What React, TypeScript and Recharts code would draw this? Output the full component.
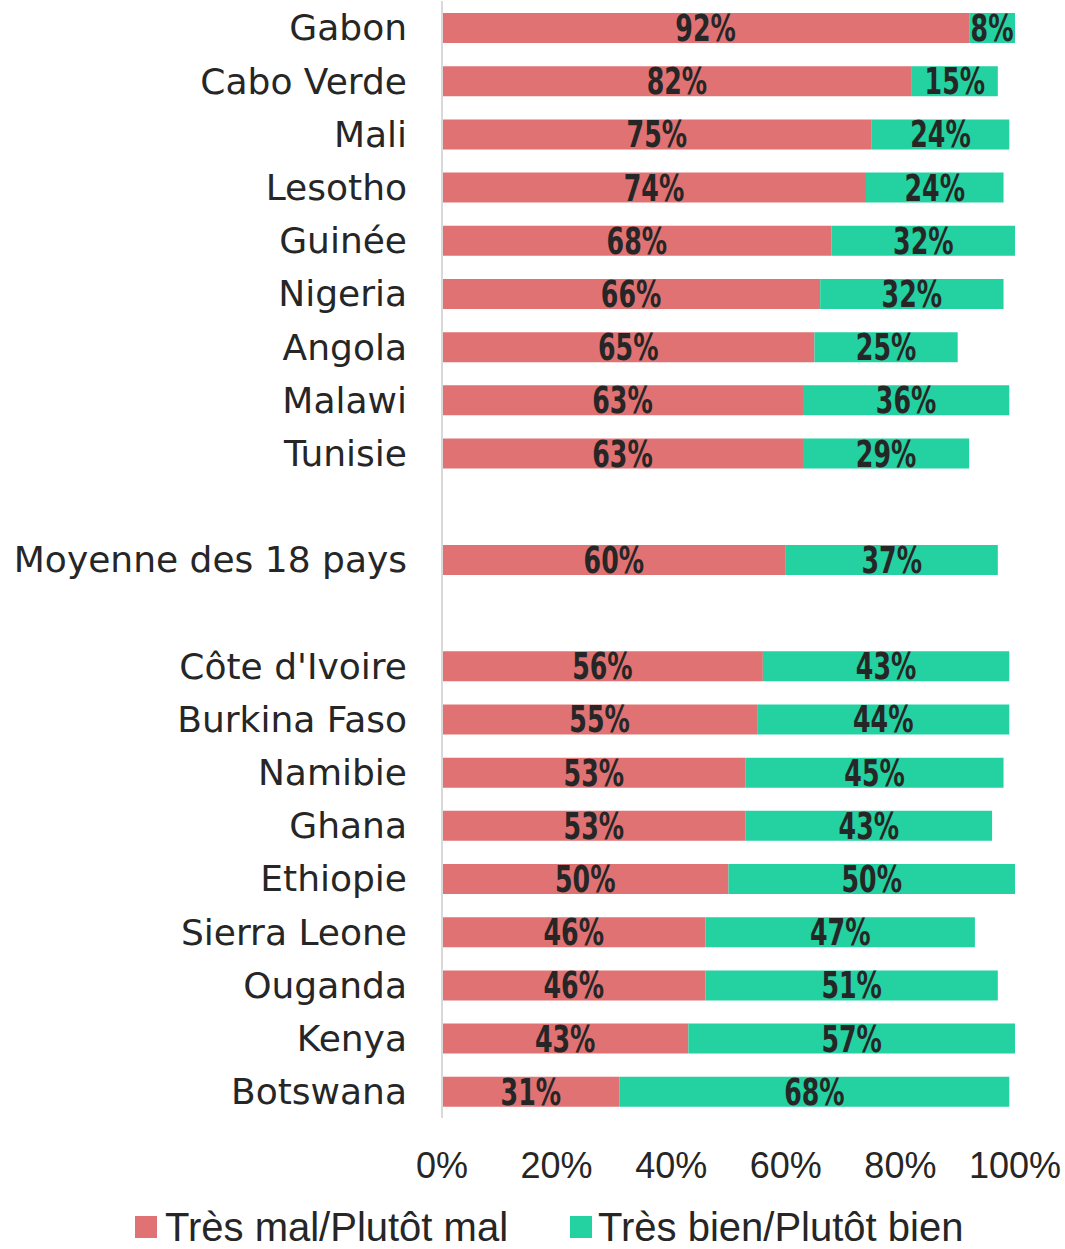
import React from "react"
import { BarChart, Bar, XAxis, YAxis, Legend, LabelList } from "recharts"

// rows top to bottom; blank strings are spacer rows
const countries = [
  "Gabon", "Cabo Verde", "Mali", "Lesotho", "Guinée", "Nigeria", "Angola", "Malawi", "Tunisie",
  " ",
  "Moyenne des 18 pays",
  "  ",
  "Côte d'Ivoire", "Burkina Faso", "Namibie", "Ghana", "Ethiopie", "Sierra Leone", "Ouganda", "Kenya", "Botswana",
]
const mal = [92, 82, 75, 74, 68, 66, 65, 63, 63, null, 60, null, 56, 55, 53, 53, 50, 46, 46, 43, 31]
const bien = [8, 15, 24, 24, 32, 32, 25, 36, 29, null, 37, null, 43, 44, 45, 43, 50, 47, 51, 57, 68]
const xTicks = [0, 20, 40, 60, 80, 100]

const RED = "#e07274"
const GREEN = "#24d1a1"
const TEXT = "#262626"

const rows = countries.map((name, i) => ({ name, mal: mal[i], bien: bien[i] }))

// condensed bold value label centred in its segment
const ValueLabel = (props: any) => {
  const { x, y, width, height, value } = props
  if (value == null) return null
  const cx = Number(x) + Number(width) / 2
  const cy = Number(y) + Number(height) / 2
  return (
    <text
      x={cx}
      y={cy + 13}
      textAnchor="middle"
      transform={`translate(${cx} 0) scale(0.76 1) translate(${-cx} 0)`}
      style={{ fontFamily: "'DejaVu Sans Condensed', 'DejaVu Sans', sans-serif", fontSize: 37, fontWeight: 700, fill: TEXT }}
    >
      {`${value}%`}
    </text>
  )
}

const LegendBox = () => (
  <div style={{ display: "flex", alignItems: "center", height: 44, paddingLeft: 135, fontFamily: "'Liberation Sans', Arial, sans-serif", fontSize: 40, lineHeight: 1, color: TEXT }}>
    <span style={{ width: 22, height: 22, background: RED, marginRight: 8 }} />
    <span style={{ marginRight: 62 }}>Très mal/Plutôt mal</span>
    <span style={{ width: 22, height: 22, background: GREEN, marginRight: 6 }} />
    <span>Très bien/Plutôt bien</span>
  </div>
)

export default function App() {
  return (
    <div>
      <style>{"body{margin:0}"}</style>
      <BarChart layout="vertical" width={1065} height={1249} data={rows} margin={{ top: 1, right: 50, bottom: 0, left: 0 }}>
        <XAxis
          type="number"
          domain={[0, 100]}
          ticks={xTicks}
          tickFormatter={(v) => `${v}%`}
          axisLine={false}
          tickLine={false}
          tickSize={0}
          tickMargin={34}
          height={87}
          tick={{ fontFamily: "'Liberation Sans', Arial, sans-serif", fontSize: 36, fill: TEXT }}
        />
        <YAxis
          type="category"
          dataKey="name"
          width={442}
          interval={0}
          tickLine={false}
          tickSize={0}
          tickMargin={35}
          axisLine={{ stroke: "#d9d9d9", strokeWidth: 2 }}
          tick={{ fontFamily: "'DejaVu Sans', sans-serif", fontSize: 36, fill: TEXT }}
        />
        <Legend verticalAlign="bottom" content={<LegendBox />} />
        <Bar dataKey="mal" stackId="a" fill={RED} barSize={30} isAnimationActive={false}>
          <LabelList dataKey="mal" content={<ValueLabel />} />
        </Bar>
        <Bar dataKey="bien" stackId="a" fill={GREEN} barSize={30} isAnimationActive={false}>
          <LabelList dataKey="bien" content={<ValueLabel />} />
        </Bar>
      </BarChart>
    </div>
  )
}
